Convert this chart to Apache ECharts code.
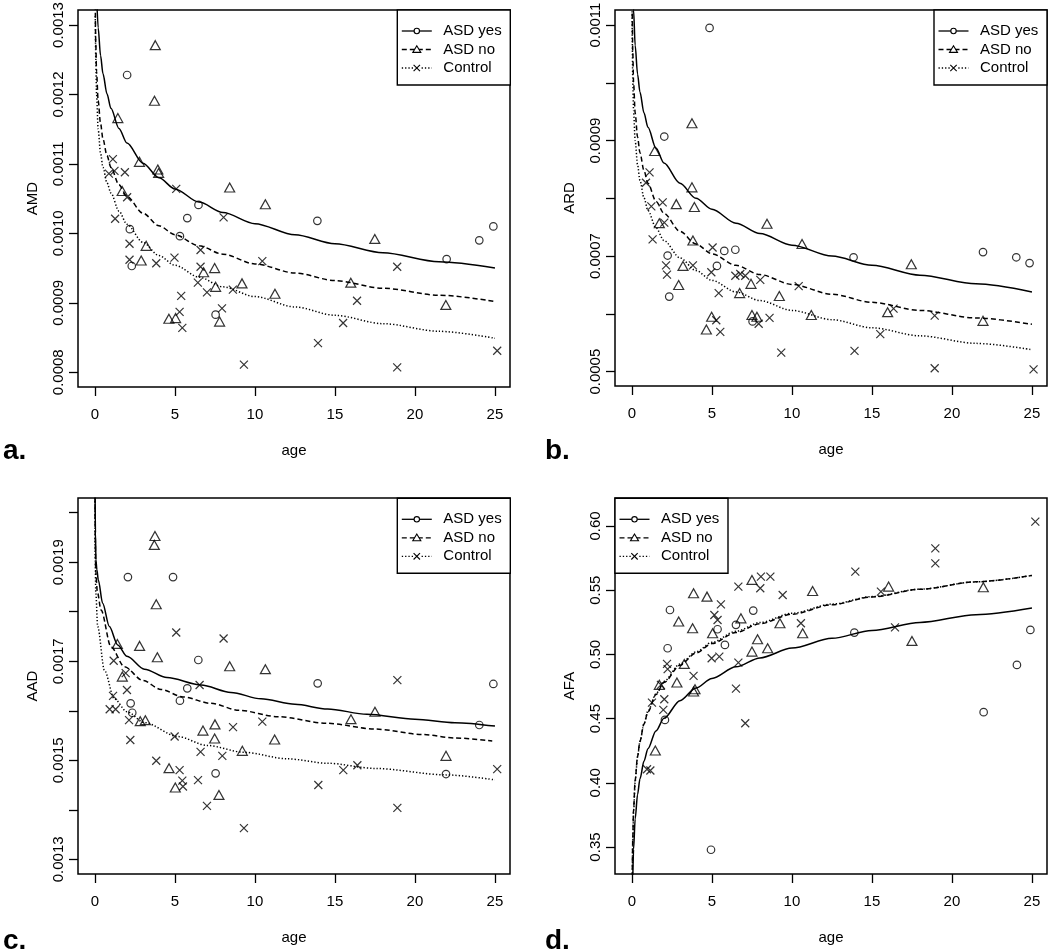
<!DOCTYPE html>
<html><head><meta charset="utf-8">
<script src="https://cdn.jsdelivr.net/npm/echarts@6/dist/echarts.min.js"></script>
<style>html,body{margin:0;padding:0;background:#fff}#c{width:1050px;height:952px}</style>
</head><body><div id="c"></div>
<script>
// ---------- data (x = age, y = measure) ----------
const xTicks = [0, 5, 10, 15, 20, 25];

// Panel a: AMD
const amdTicks = [0.0008, 0.0009, 0.0010, 0.0011, 0.0012, 0.0013];
const amdLabels = [0.0008, 0.0009, 0.0010, 0.0011, 0.0012, 0.0013];
const amdYes = [[2.01,0.001228],[6.47,0.001041],[5.77,0.001022],[2.18,0.001006],[5.31,0.000996],[2.30,0.000953],[7.54,0.000883],[13.9,0.001018],[24.02,0.00099],[24.9,0.00101],[21.98,0.000963]];
const amdNo = [[3.77,0.001271],[3.72,0.001191],[1.43,0.001166],[2.78,0.001103],[3.93,0.001092],[3.98,0.001087],[1.70,0.001061],[8.42,0.001066],[10.65,0.001042],[3.2,0.000982],[2.89,0.000961],[7.48,0.00095],[6.79,0.000944],[7.54,0.000923],[9.19,0.000928],[11.25,0.000913],[4.62,0.000877],[5.04,0.000878],[7.79,0.000873],[17.49,0.000992],[15.99,0.000929],[21.93,0.000897]];
const amdCtrl = [[1.12,0.001107],[1.22,0.00109],[0.87,0.001086],[1.87,0.001088],[2.01,0.001052],[1.26,0.001021],[5.08,0.001064],[8.04,0.001023],[2.16,0.000985],[2.16,0.000962],[3.83,0.000957],[4.97,0.000965],[6.6,0.000976],[6.6,0.000952],[6.43,0.000929],[7.0,0.000915],[8.62,0.000919],[7.94,0.000892],[5.39,0.00091],[5.29,0.000887],[5.46,0.000864],[9.31,0.000811],[10.46,0.00096],[18.89,0.000952],[16.38,0.000903],[15.51,0.000871],[13.94,0.000842],[18.89,0.000807],[25.14,0.000831]];
const amdYesFit = [[0.1,0.001346],[0.2,0.001296],[0.35,0.001256],[0.5,0.00123],[0.75,0.001201],[1,0.00118],[1.5,0.001151],[2,0.00113],[3,0.001101],[4,0.00108],[5,0.001064],[6.5,0.001045],[8,0.00103],[10,0.001014],[12.5,0.000998],[15,0.000985],[18,0.000972],[21.5,0.000959],[25,0.00095]];
const amdNoFit = [[0.02,0.001329],[0.05,0.001274],[0.1,0.001233],[0.2,0.001191],[0.35,0.001158],[0.5,0.001136],[0.75,0.001112],[1,0.001095],[1.5,0.00107],[2,0.001053],[3,0.001029],[4,0.001011],[5,0.000998],[6.5,0.000982],[8,0.00097],[10,0.000956],[12.5,0.000943],[15,0.000932],[18,0.000921],[21.5,0.000911],[25,0.000902]];
const amdCtrlFit = [[0.02,0.001313],[0.05,0.001253],[0.1,0.0012],[0.2,0.00115],[0.35,0.001115],[0.5,0.001095],[0.75,0.001073],[1,0.001058],[1.5,0.001032],[2,0.001013],[3,0.000987],[4,0.000968],[5,0.000954],[6.5,0.000937],[8,0.000923],[10,0.000909],[12.5,0.000894],[15,0.000882],[18,0.00087],[21.5,0.000859],[25,0.000849]];

// Panel b: ARD
const ardTicks = [0.0005, 0.0006, 0.0007, 0.0008, 0.0009, 0.0010, 0.0011];
const ardLabels = [0.0005, 0.0007, 0.0009, 0.0011];
const ardYes = [[4.85,0.001095],[2.02,0.000907],[5.77,0.000709],[6.46,0.000711],[2.23,0.000701],[5.31,0.000683],[2.33,0.00063],[7.54,0.000587],[13.85,0.000698],[21.94,0.000707],[24.02,0.000698],[24.85,0.000688]];
const ardNo = [[3.75,0.00093],[1.42,0.000882],[3.75,0.000819],[2.77,0.00079],[3.9,0.000785],[8.44,0.000756],[1.71,0.000757],[3.81,0.000727],[10.63,0.000721],[3.19,0.000683],[2.92,0.00065],[7.44,0.000652],[6.73,0.000636],[9.21,0.000631],[4.98,0.000595],[7.5,0.000598],[7.81,0.000595],[4.65,0.000573],[11.21,0.000598],[17.46,0.000686],[15.98,0.000603],[21.94,0.000588]];
const ardCtrl = [[1.1,0.000845],[0.875,0.000827],[1.21,0.000786],[1.92,0.000793],[2.02,0.000758],[1.29,0.000729],[2.13,0.000684],[2.19,0.000668],[3.81,0.000684],[5.04,0.000715],[4.96,0.000672],[5.42,0.000636],[5.27,0.000589],[5.52,0.000569],[6.46,0.000666],[6.77,0.000669],[7.08,0.000666],[8.02,0.000659],[7.92,0.000583],[8.6,0.000593],[9.33,0.000533],[10.42,0.000648],[13.91,0.000536],[15.52,0.000565],[16.35,0.000609],[18.92,0.000597],[18.92,0.000506],[25.1,0.000504]];
const ardYesFit = [[0.05,0.001187],[0.1,0.001126],[0.2,0.001065],[0.35,0.001015],[0.5,0.000984],[0.75,0.000948],[1,0.000923],[1.5,0.000887],[2,0.000861],[3,0.000826],[4,0.0008],[5,0.000781],[6.5,0.000757],[8,0.000739],[10,0.000719],[12.5,0.0007],[15,0.000684],[18,0.000667],[21.5,0.000652],[25,0.000638]];
const ardNoFit = [[0.02,0.00112],[0.05,0.001054],[0.1,0.001001],[0.2,0.000948],[0.35,0.000906],[0.5,0.000879],[0.75,0.000848],[1,0.000826],[1.5,0.000795],[2,0.000774],[3,0.000743],[4,0.000721],[5,0.000704],[6.5,0.000684],[8,0.000668],[10,0.000651],[12.5,0.000634],[15,0.00062],[18,0.000606],[21.5,0.000593],[25,0.000582]];
const ardCtrlFit = [[0.01,0.001124],[0.02,0.001072],[0.05,0.001004],[0.1,0.000952],[0.2,0.0009],[0.35,0.000858],[0.5,0.000831],[0.75,0.000801],[1,0.000779],[1.5,0.000749],[2,0.000727],[3,0.000697],[4,0.000675],[5,0.000658],[6.5,0.000638],[8,0.000623],[10,0.000606],[12.5,0.00059],[15,0.000576],[18,0.000562],[21.5,0.000549],[25,0.000538]];

// Panel c: AAD
const aadTicks = [0.0013, 0.0014, 0.0015, 0.0016, 0.0017, 0.0018, 0.0019, 0.0020];
const aadLabels = [0.0013, 0.0015, 0.0017, 0.0019];
const aadYes = [[2.06,0.00187],[4.88,0.00187],[6.46,0.0017025],[5.77,0.0016453],[5.31,0.0016203],[2.23,0.001615],[2.33,0.001596],[7.54,0.0014736],[13.92,0.0016554],[24.9,0.0016541],[24.02,0.0015712],[21.94,0.0014722]];
const aadNo = [[3.75,0.001953],[3.71,0.001935],[3.83,0.001815],[1.4,0.001735],[2.79,0.001731],[3.9,0.001708],[8.42,0.00169],[10.65,0.001684],[1.71,0.001669],[2.83,0.001579],[3.15,0.001581],[7.5,0.0015725],[6.75,0.00156],[7.48,0.001544],[11.23,0.001542],[9.21,0.001519],[4.63,0.001484],[5.02,0.001445],[7.75,0.00143],[17.5,0.001598],[16.0,0.001583],[21.94,0.001509]];
const aadCtrl = [[5.08,0.001758],[8.04,0.001746],[1.17,0.001701],[1.92,0.001676],[2.0,0.001642],[1.13,0.00163],[0.92,0.001603],[1.29,0.001603],[2.13,0.001581],[2.21,0.001541],[6.54,0.001652],[4.98,0.001548],[8.63,0.001567],[10.46,0.001578],[6.6,0.001517],[7.96,0.001509],[3.83,0.001499],[5.29,0.00148],[5.46,0.001459],[5.5,0.001447],[6.44,0.00146],[7.0,0.001408],[9.31,0.001363],[18.9,0.001662],[16.4,0.00149],[15.52,0.00148],[25.14,0.001482],[13.96,0.00145],[18.9,0.001404]];
const aadYesFit = [[0.01,0.00203],[0.03,0.00196],[0.06,0.001905],[0.12,0.001885],[0.21,0.001864],[0.48,0.001817],[0.9,0.00177],[1.42,0.001733],[2,0.00171],[3.09,0.001684],[4.5,0.001667],[6.63,0.001652],[8.5,0.001637],[10.38,0.001624],[12.5,0.001613],[14.54,0.0016035],[17,0.001593],[20,0.001583],[22.5,0.001576],[25,0.001569]];
const aadNoFit = [[0.01,0.00203],[0.02,0.00195],[0.05,0.00188],[0.15,0.00184],[0.38,0.0018035],[1,0.001729],[1.84,0.001689],[3,0.001661],[4.13,0.001643],[5.5,0.001628],[7.25,0.001615],[9,0.001601],[11.42,0.001588],[14.54,0.0015746],[17.5,0.001563],[20.5,0.001552],[22.5,0.001545],[24.83,0.001539]];
const aadCtrlFit = [[0.005,0.00203],[0.01,0.00192],[0.05,0.00184],[0.17,0.00177],[0.59,0.001682],[1.21,0.001624],[2,0.001598],[3.09,0.001576],[5.17,0.001548],[7,0.00153],[9.34,0.001516],[12,0.001503],[14.54,0.001494],[17.5,0.0014835],[21.94,0.0014705],[25,0.0014605]];

// Panel d: AFA
const afaTicks = [0.35, 0.40, 0.45, 0.50, 0.55, 0.60];
const afaLabels = [0.35, 0.40, 0.45, 0.50, 0.55, 0.60];
const afaYes = [[2.375,0.5346],[2.23,0.5048],[2.06,0.449],[5.35,0.5196],[5.81,0.5074],[6.5,0.523],[7.58,0.5341],[4.94,0.3479],[13.9,0.517],[24.9,0.5191],[24.06,0.4918],[21.98,0.455]];
const afaNo = [[3.85,0.5476],[4.69,0.545],[2.92,0.5256],[3.79,0.5204],[5.04,0.5165],[6.81,0.5281],[7.5,0.558],[7.85,0.5118],[7.5,0.5022],[8.48,0.5048],[9.25,0.5243],[11.29,0.5494],[10.67,0.5165],[3.27,0.4926],[2.81,0.4781],[1.71,0.4763],[3.94,0.4729],[3.85,0.4711],[1.46,0.4252],[16.04,0.5528],[21.96,0.5523],[17.5,0.5105]];
const afaCtrl = [[6.65,0.5528],[8.06,0.5606],[8.65,0.5606],[8.02,0.5515],[9.42,0.5463],[5.56,0.539],[5.15,0.5307],[5.35,0.5268],[10.56,0.5243],[4.98,0.497],[5.46,0.4983],[6.65,0.4936],[2.19,0.4926],[2.23,0.4885],[3.85,0.4833],[1.81,0.4763],[2.02,0.4651],[1.96,0.4568],[1.25,0.4625],[6.5,0.4734],[7.08,0.4464],[0.94,0.4106],[1.15,0.4096],[13.96,0.5645],[18.96,0.5826],[18.96,0.5709],[25.21,0.6034],[15.56,0.5489],[16.44,0.5211]];
const afaYesFit = [[0.05,0.3248],[0.1,0.3483],[0.2,0.3719],[0.35,0.3909],[0.5,0.4031],[0.75,0.4168],[1,0.4266],[1.5,0.4404],[2,0.4502],[3,0.464],[4,0.4738],[5,0.4813],[6.5,0.4903],[8,0.4973],[10,0.5049],[12.5,0.5125],[15,0.5187],[18,0.5249],[21.5,0.5309],[25,0.5361]];
const afaNoFit = [[0.02,0.3262],[0.05,0.3565],[0.1,0.3793],[0.2,0.4022],[0.35,0.4206],[0.5,0.4324],[0.75,0.4458],[1,0.4553],[1.5,0.4687],[2,0.4782],[3,0.4916],[4,0.5011],[5,0.5084],[6.5,0.5171],[8,0.5239],[10,0.5313],[12.5,0.5387],[15,0.5447],[18,0.5507],[21.5,0.5565],[25,0.5615]];
const afaCtrlFit = [[0.02,0.322],[0.05,0.353],[0.1,0.377],[0.2,0.401],[0.35,0.42],[0.5,0.432],[0.75,0.446],[1,0.4558],[1.5,0.4693],[2,0.479],[3,0.4925],[4,0.502],[5,0.5094],[6.5,0.518],[8,0.5248],[10,0.532],[12.5,0.5392],[15,0.545],[18,0.5508],[21.5,0.5565],[25,0.5615]];

const groupNames = ['ASD yes', 'ASD no', 'Control'];

// ---------- layout ----------
const FONT = '"Liberation Sans", Arial, Helvetica, sans-serif';
const panels = [
  {name:'AMD', letter:'a.', grid:{left:78, top:10, width:432, height:377}, ymin:0.0007788, ymax:0.0013216, ticks:amdTicks, labels:amdLabels, dec:4,
   pts:[amdYes, amdNo, amdCtrl], fits:[amdYesFit, amdNoFit, amdCtrlFit], leg:[397.3, 10], letterPos:[3, 451]},
  {name:'ARD', letter:'b.', grid:{left:615, top:10, width:432, height:376}, ymin:0.0004752, ymax:0.001126, ticks:ardTicks, labels:ardLabels, dec:4,
   pts:[ardYes, ardNo, ardCtrl], fits:[ardYesFit, ardNoFit, ardCtrlFit], leg:[934, 10], letterPos:[545, 451]},
  {name:'AAD', letter:'c.', grid:{left:78, top:498, width:432, height:376}, ymin:0.0012703, ymax:0.0020297, ticks:aadTicks, labels:aadLabels, dec:4,
   pts:[aadYes, aadNo, aadCtrl], fits:[aadYesFit, aadNoFit, aadCtrlFit], leg:[397.3, 498.3], letterPos:[3, 941]},
  {name:'AFA', letter:'d.', grid:{left:615, top:498, width:432, height:376}, ymin:0.329, ymax:0.6218, ticks:afaTicks, labels:afaLabels, dec:2,
   pts:[afaYes, afaNo, afaCtrl], fits:[afaYesFit, afaNoFit, afaCtrlFit], leg:[615, 498.3], letterPos:[545, 941]}
];

const markers = [
  {symbol:'circle', size:7.5, itemStyle:{color:'rgba(0,0,0,0)', borderColor:'#000', borderWidth:1.2}},
  {symbol:'triangle', size:[10,9], itemStyle:{color:'rgba(0,0,0,0)', borderColor:'#000', borderWidth:1.2}},
  {symbol:'path://M0,0L10,10M10,0L0,10', size:8, itemStyle:{color:'none', borderColor:'#000', borderWidth:1.2}}
];
const dashes = ['solid', [5, 3], [1.3, 2]];

const grid = [], xAxis = [], yAxis = [], series = [], graphic = [];
panels.forEach((p, i) => {
  grid.push(Object.assign({show:true, borderColor:'#000', borderWidth:1.5, backgroundColor:'transparent', outerBoundsMode:'none', containLabel:false}, p.grid));
  xAxis.push({
    gridIndex:i, type:'value', min:-1.06, max:25.94, position:'bottom',
    axisLine:{show:false, onZero:false}, splitLine:{show:false},
    axisTick:{show:true, length:9, lineStyle:{color:'#000', width:1.3}, customValues:xTicks},
    axisLabel:{show:true, margin:20, fontSize:15, color:'#000', fontFamily:FONT, customValues:xTicks, formatter:v=>String(v)},
    name:'age', nameLocation:'middle', nameGap:56,
    nameTextStyle:{fontSize:15, color:'#000', fontFamily:FONT}
  });
  yAxis.push({
    gridIndex:i, type:'value', min:p.ymin, max:p.ymax, position:'left',
    axisLine:{show:false, onZero:false}, splitLine:{show:false},
    axisTick:{show:true, length:9, lineStyle:{color:'#000', width:1.3}, customValues:p.ticks},
    axisLabel:{show:true, rotate:90, margin:12, fontSize:15, color:'#000', fontFamily:FONT, customValues:p.labels, formatter:v=>Number(v).toFixed(p.dec)},
    name:p.name, nameLocation:'middle', nameGap:38, nameRotate:90,
    nameTextStyle:{fontSize:15, color:'#000', fontFamily:FONT}
  });
  p.fits.forEach((f, g) => {
    series.push({type:'line', name:groupNames[g], xAxisIndex:i, yAxisIndex:i, data:f,
      symbol:'none', showSymbol:false, smooth:0.3, smoothMonotone:'x', clip:true, silent:true,
      lineStyle:{color:'#000', width:1.5, type:dashes[g]}, z:3});
  });
  p.pts.forEach((d, g) => {
    series.push({type:'scatter', name:groupNames[g], xAxisIndex:i, yAxisIndex:i, data:d,
      symbol:markers[g].symbol, symbolSize:markers[g].size, itemStyle:markers[g].itemStyle, silent:true, z:4});
  });

  // legend box (R-style)
  const lx = p.leg[0], ly = p.leg[1];
  graphic.push({type:'rect', shape:{x:lx, y:ly, width:113, height:75}, style:{fill:'#fff', stroke:'#000', lineWidth:1.4}, z:100});
  groupNames.forEach((nm, g) => {
    const ry = ly + 21 + g * 18.5;
    const cx = lx + 19.5;
    graphic.push({type:'line', shape:{x1:lx + 4.5, y1:ry, x2:lx + 34.5, y2:ry},
      style:{stroke:'#000', lineWidth:1.3, lineDash: g === 0 ? null : dashes[g]}, z:101});
    if (g === 0) {
      graphic.push({type:'circle', shape:{cx:cx, cy:ry, r:2.7}, style:{fill:'#fff', stroke:'#000', lineWidth:1.1}, z:102});
    } else if (g === 1) {
      graphic.push({type:'polygon', shape:{points:[[cx, ry - 3.8], [cx - 4, ry + 2.9], [cx + 4, ry + 2.9]]}, style:{fill:'#fff', stroke:'#000', lineWidth:1.1}, z:102});
    } else {
      graphic.push({type:'rect', shape:{x:cx - 3.5, y:ry - 3.5, width:7, height:7}, style:{fill:'#fff', stroke:null}, z:102});
      graphic.push({type:'line', shape:{x1:cx - 3.2, y1:ry - 3.2, x2:cx + 3.2, y2:ry + 3.2}, style:{stroke:'#000', lineWidth:1.1}, z:103});
      graphic.push({type:'line', shape:{x1:cx + 3.2, y1:ry - 3.2, x2:cx - 3.2, y2:ry + 3.2}, style:{stroke:'#000', lineWidth:1.1}, z:103});
    }
    graphic.push({type:'text', x:lx + 46, y:ry, style:{text:nm, fill:'#000', font:'15px ' + FONT, verticalAlign:'middle', align:'left'}, z:102});
  });
  // panel letter
  graphic.push({type:'text', x:p.letterPos[0], y:p.letterPos[1], style:{text:p.letter, fill:'#000', font:'bold 28px ' + FONT, verticalAlign:'middle', align:'left'}, z:100});
});

const chart = echarts.init(document.getElementById('c'), null, {renderer:'canvas'});
chart.setOption({
  animation:false,
  backgroundColor:'#fff',
  grid, xAxis, yAxis, series, graphic
});
</script>
</body></html>
